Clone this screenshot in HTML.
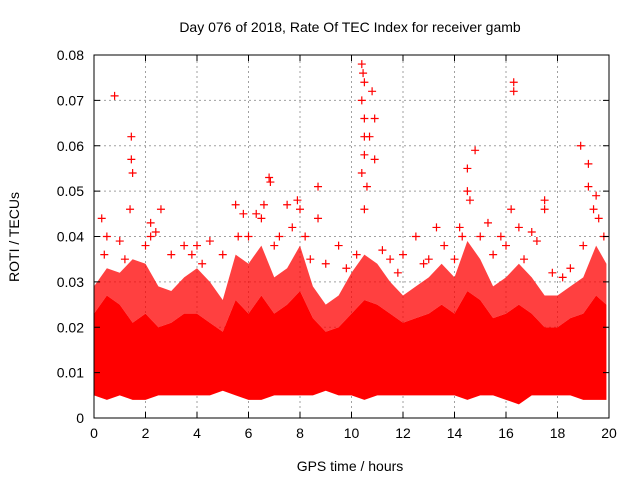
<!DOCTYPE html>
<html><head><meta charset="utf-8"><style>
body{margin:0;background:#fff}
svg{display:block;font-family:"Liberation Sans",sans-serif}
</style></head><body>
<svg id="chart" width="640" height="480">
<text x="350" y="32" text-anchor="middle" font-size="14">Day 076 of 2018, Rate Of TEC Index for receiver gamb</text>
<text x="350" y="471" text-anchor="middle" font-size="14">GPS time / hours</text>
<text transform="translate(19,237) rotate(-90)" text-anchor="middle" font-size="14">ROTI / TECUs</text>
<g id="grid"></g><g id="marks"></g><g id="axes"></g>
</svg>
<script>
const xTicks=[0,2,4,6,8,10,12,14,16,18,20];
const yTicks=[0,0.01,0.02,0.03,0.04,0.05,0.06,0.07,0.08];
const yTickLabels=["0","0.01","0.02","0.03","0.04","0.05","0.06","0.07","0.08"];
const bandTimes=[0,0.5,1,1.5,2,2.5,3,3.5,4,4.5,5,5.5,6,6.5,7,7.5,8,8.5,9,9.5,10,10.5,11,11.5,12,12.5,13,13.5,14,14.5,15,15.5,16,16.5,17,17.5,18,18.5,19,19.5,19.9];
const bandLow=[0.005,0.004,0.005,0.004,0.004,0.005,0.005,0.005,0.005,0.005,0.006,0.005,0.004,0.004,0.005,0.005,0.005,0.005,0.006,0.005,0.005,0.004,0.005,0.005,0.005,0.005,0.005,0.005,0.005,0.004,0.005,0.005,0.004,0.003,0.005,0.005,0.005,0.005,0.004,0.004,0.004];
const bandCore=[0.023,0.027,0.025,0.021,0.023,0.02,0.021,0.023,0.023,0.021,0.019,0.026,0.023,0.027,0.023,0.025,0.028,0.022,0.019,0.02,0.023,0.026,0.025,0.023,0.021,0.022,0.023,0.025,0.023,0.028,0.026,0.022,0.023,0.025,0.023,0.02,0.02,0.022,0.023,0.027,0.025];
const bandHigh=[0.029,0.033,0.032,0.035,0.034,0.029,0.028,0.031,0.033,0.03,0.026,0.036,0.034,0.038,0.031,0.033,0.038,0.029,0.025,0.027,0.032,0.036,0.034,0.03,0.027,0.029,0.031,0.034,0.031,0.039,0.035,0.029,0.031,0.034,0.031,0.027,0.027,0.029,0.031,0.038,0.034];
const outT=[0.8,1.45,1.45,1.5,1.4,2.2,2.6,2.2,3.5,4.0,4.5,5.5,5.8,6.3,6.6,6.8,6.85,7.5,7.9,8.0,8.7,8.7,9.5,10.4,10.45,10.5,10.4,10.5,10.5,10.5,10.4,10.6,10.5,10.8,10.9,10.9,10.7,11.5,12.5,13.3,14.3,14.5,14.5,14.6,14.8,15.3,15.8,16.3,16.3,16.2,16.5,17.0,17.5,17.5,18.9,19.2,19.2,19.5,19.4,19.6,0.3,0.5,1.0,2.0,3.0,5.0,6.0,7.2,8.2,9.0,12.0,13.0,14.0,15.0,16.0,17.8,18.5,19.0,0.4,1.2,2.4,3.8,4.2,5.6,6.5,7.0,7.7,8.4,9.8,10.2,11.2,11.8,12.8,13.6,14.2,15.5,16.7,17.2,18.2,19.8];
const outV=[0.071,0.062,0.057,0.054,0.046,0.043,0.046,0.04,0.038,0.038,0.039,0.047,0.045,0.045,0.047,0.053,0.052,0.047,0.048,0.046,0.051,0.044,0.038,0.078,0.076,0.074,0.07,0.066,0.062,0.058,0.054,0.051,0.046,0.072,0.066,0.057,0.062,0.035,0.04,0.042,0.04,0.055,0.05,0.048,0.059,0.043,0.04,0.074,0.072,0.046,0.042,0.041,0.048,0.046,0.06,0.056,0.051,0.049,0.046,0.044,0.044,0.04,0.039,0.038,0.036,0.036,0.04,0.04,0.04,0.034,0.036,0.035,0.035,0.04,0.038,0.032,0.033,0.038,0.036,0.035,0.041,0.036,0.034,0.04,0.044,0.038,0.042,0.035,0.033,0.036,0.037,0.032,0.034,0.038,0.042,0.036,0.035,0.039,0.031,0.04];
const X0=94,X1=609,Y0=418,Y1=55;
const xs=t=>X0+(t-0)/(20-0)*(X1-X0);
const ys=v=>Y0-(v-0)/(0.08-0)*(Y0-Y1);
const NS="http://www.w3.org/2000/svg";
function mk(tag,attrs,parent){const e=document.createElementNS(NS,tag);for(const k in attrs)e.setAttribute(k,attrs[k]);parent.appendChild(e);return e;}
const grid=document.getElementById('grid'),marks=document.getElementById('marks'),axes=document.getElementById('axes');
xTicks.forEach(t=>{if(t>0&&t<20){const l=mk('line',{x1:xs(t),x2:xs(t),y1:Y0,y2:Y1,stroke:'#a0a0a0','stroke-dasharray':'2,3'},grid);

}
const tx=mk('text',{x:xs(t),y:Y0+20,'text-anchor':'middle','font-size':14},axes);tx.textContent=t;


mk('line',{x1:xs(t),x2:xs(t),y1:Y0,y2:Y0-6,stroke:'#000'},axes);mk('line',{x1:xs(t),x2:xs(t),y1:Y1,y2:Y1+6,stroke:'#000'},axes);});
yTicks.forEach((v,i)=>{if(v>0&&v<0.08){const l=mk('line',{x1:X0,x2:X1,y1:ys(v),y2:ys(v),stroke:'#a0a0a0','stroke-dasharray':'2,3'},grid);

}
const tx=mk('text',{x:X0-10,y:ys(v)+5,'text-anchor':'end','font-size':14},axes);tx.textContent=yTickLabels[i];


mk('line',{x1:X0,x2:X0+6,y1:ys(v),y2:ys(v),stroke:'#000'},axes);mk('line',{x1:X1,x2:X1-6,y1:ys(v),y2:ys(v),stroke:'#000'},axes);});
function poly(top,bot,fill,op,name){let p=bandTimes.map((t,i)=>xs(t)+','+ys(top[i])).concat(bandTimes.slice().reverse().map((t,j)=>{const i=bandTimes.length-1-j;return xs(t)+','+ys(bot[i]);}));
const e=mk('polygon',{points:p.join(' '),fill:fill,'fill-opacity':op},marks);

}
poly(bandHigh,bandCore,'#ff0000',0.75,'sparse-roti-band');
poly(bandCore,bandLow,'#ff0000',1,'dense-roti-band');
outT.forEach((t,i)=>{const x=xs(t),y=ys(outV[i]);
const g=mk('path',{d:`M${x-4},${y}H${x+4}M${x},${y-4}V${y+4}`,stroke:'#ff0000','stroke-width':1.2},marks);

});
const r=mk('rect',{x:X0,y:Y1,width:X1-X0,height:Y0-Y1,fill:'none',stroke:'#000'},axes);


</script>
</body></html>
